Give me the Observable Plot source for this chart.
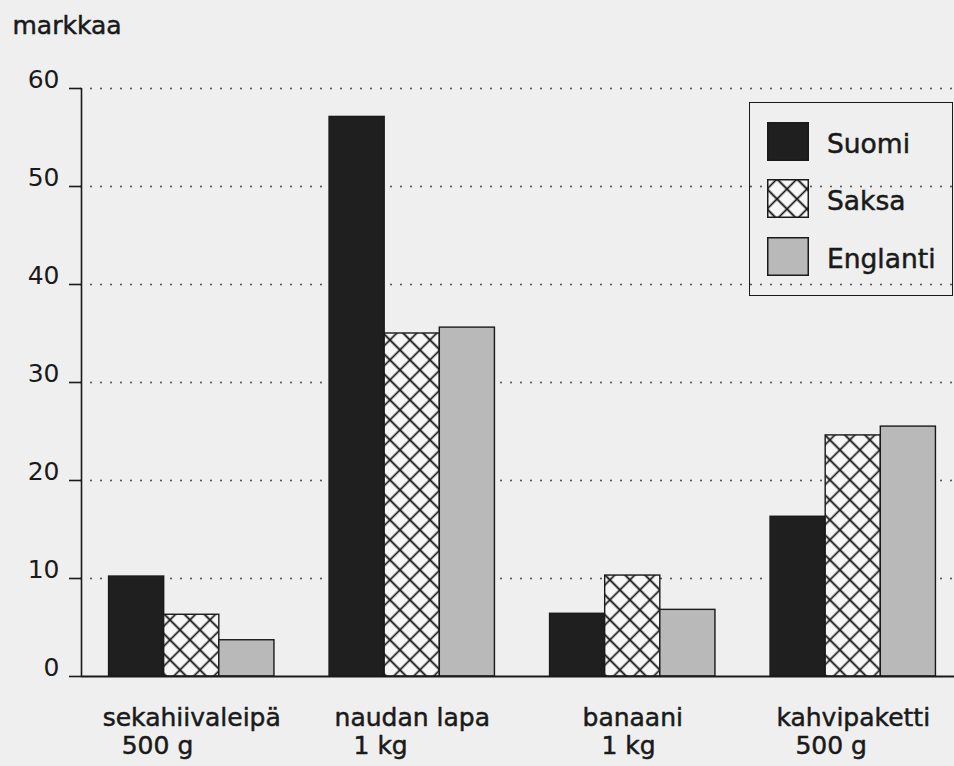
<!DOCTYPE html>
<html>
<head>
<meta charset="utf-8">
<script src="https://cdn.jsdelivr.net/npm/d3@7"></script>
<script src="https://cdn.jsdelivr.net/npm/@observablehq/plot@0.6"></script>
<style>
  html, body { margin: 0; padding: 0; background: #efefef; overflow: hidden; }
  #wrap { position: relative; width: 954px; height: 766px; }
  #legend {
    position: absolute; left: 749px; top: 102px; width: 204px; height: 194px;
    box-sizing: border-box; border: 1.5px solid #1a1a1a;
    font-family: "DejaVu Sans", sans-serif; font-size: 26.5px; color: #1a1a1a;
    -webkit-text-stroke: 0.5px #1a1a1a;
  }
  .item { position: absolute; left: 17px; display: flex; align-items: center; }
  .item span { margin-left: 18px; position: relative; top: 2px; }
</style>
</head>
<body>
<svg width="0" height="0" style="position:absolute">
  <defs>
    <pattern id="pat-cross" patternUnits="userSpaceOnUse" width="14.14" height="14.14" patternTransform="rotate(45)">
      <rect width="14.14" height="14.14" fill="#f7f7f7"/>
      <path d="M0,7.07H14.14M7.07,0V14.14" stroke="#1a1a1a" stroke-width="1.7" fill="none"/>
    </pattern>
  </defs>
</svg>
<div id="wrap"><div id="legend"></div></div>
<script>
// ---- data ----
const categories = ["sekahiivaleipä", "naudan lapa", "banaani", "kahvipaketti"];
const sizes = ["500 g", "1 kg", "1 kg", "500 g"];
const series = ["Suomi", "Saksa", "Englanti"];
const suomi = [10.2, 57.1, 6.4, 16.3];
const saksa = [6.3, 35.0, 10.3, 24.6];
const englanti = [3.7, 35.6, 6.8, 25.5];
const yTicks = [0, 10, 20, 30, 40, 50, 60];
const fills = ["#1f1f1f", "url(#pat-cross)", "#b9b9b9"];

const values = [suomi, saksa, englanti];
const rows = categories.flatMap((c, ci) =>
  series.map((s, si) => ({category: c, ci, series: s, si, value: values[si][ci]})));
const slot = series.length + 1; // bar slots per group (bars + gap)
const xDomain = [0, categories.length * slot];
const xRange = [81, 963];
const unitPx = (xRange[1] - xRange[0]) / (xDomain[1] - xDomain[0]);

// measure first label line so the second line can be indented under its left edge
const labelFont = "25px 'DejaVu Sans'";
const ctx = document.createElement("canvas").getContext("2d");
ctx.font = labelFont;
const nameWidths = categories.map(c => ctx.measureText(c).width);
const indentPx = 19;

const ink = "#1a1a1a";
const textStyle = {fontSize: 25, fill: ink, stroke: ink, strokeWidth: 0.5};
const plot = Plot.plot({
  width: 954,
  height: 766,
  marginLeft: 81,
  marginRight: 0,
  marginTop: 88,
  marginBottom: 90,
  style: {background: "transparent", fontFamily: "DejaVu Sans, sans-serif", fontSize: "25px", color: ink},
  x: {domain: xDomain, range: xRange, axis: null},
  y: {domain: [0, 60]},
  marks: [
    Plot.ruleY(yTicks.filter(d => d > 0), {stroke: "#5a5a5a", strokeWidth: 2.2, strokeDasharray: "0,10", strokeLinecap: "round"}),
    ...series.map((s, si) => Plot.rectY(rows.filter(r => r.si === si), {
      x1: r => r.ci * slot + 0.5 + r.si,
      x2: r => r.ci * slot + 1.5 + r.si,
      y: "value",
      fill: fills[si],
      stroke: ink,
      strokeWidth: 1.4
    })),
    Plot.ruleY([0], {stroke: ink, strokeWidth: 1.8}),
    Plot.ruleX([0], {stroke: ink, strokeWidth: 1.6}),
    Plot.axisY(yTicks, {tickSize: 12, fill: "none", label: null, stroke: ink, strokeWidth: 1.6}),
    Plot.axisY(yTicks, {tickSize: 0, tickPadding: 22, dy: -9, ...textStyle, label: null}),
    Plot.text(["markkaa"], {frameAnchor: "top-left", textAnchor: "start", lineAnchor: "bottom", dx: -69, dy: -55, ...textStyle}),
    Plot.text(categories, {x: (d, i) => i * slot + 2, frameAnchor: "bottom", lineAnchor: "bottom", dy: 49, ...textStyle}),
    Plot.text(sizes, {
      x: (d, i) => i * slot + 2 + (indentPx - nameWidths[i] / 2) / unitPx,
      textAnchor: "start", frameAnchor: "bottom", lineAnchor: "bottom", dy: 77, ...textStyle
    })
  ]
});
const wrap = document.getElementById("wrap");
wrap.prepend(plot);

// legend
const legend = document.getElementById("legend");
series.forEach((s, si) => {
  const item = document.createElement("div");
  item.className = "item";
  item.style.top = (18.5 + si * 57.5) + "px";
  item.innerHTML = `<svg width="42" height="39"><rect x="0.75" y="0.75" width="40.5" height="37.5" fill="${fills[si]}" stroke="${ink}" stroke-width="1.5"/></svg><span>${s}</span>`;
  legend.appendChild(item);
});
</script>
</body>
</html>
